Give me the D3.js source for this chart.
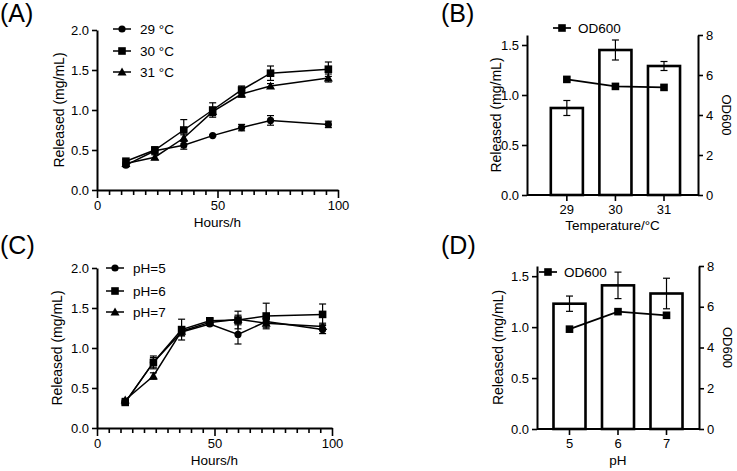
<!DOCTYPE html>
<html>
<head>
<meta charset="utf-8">
<script src="https://cdn.jsdelivr.net/npm/d3@7"></script>
<style>
  body { margin: 0; background: #fff; }
  text { font-family: Arial, "Liberation Sans", sans-serif; fill: #000; }
</style>
</head>
<body>
<svg id="fig" width="737" height="471"></svg>
<script>
// ---- data ----
const hours = [12, 24, 36, 48, 60, 72, 96];

const t29 = [0.31, 0.49, 0.56, 0.68, 0.78, 0.87, 0.82];
const t29Err = [0.02, 0.04, 0.05, 0.01, 0.04, 0.06, 0.04];
const t30 = [0.36, 0.50, 0.75, 1.00, 1.25, 1.46, 1.51];
const t30Err = [0.02, 0.04, 0.13, 0.09, 0.05, 0.09, 0.09];
const t31 = [0.33, 0.41, 0.65, 0.98, 1.20, 1.30, 1.40];
const t31Err = [0.02, 0.03, 0.04, 0.05, 0.04, 0.03, 0.05];

const ph5 = [0.32, 0.82, 1.20, 1.30, 1.17, 1.33, 1.23];
const ph5Err = [0.02, 0.06, 0.05, 0.02, 0.12, 0.04, 0.05];
const ph6 = [0.32, 0.82, 1.23, 1.34, 1.35, 1.40, 1.42];
const ph6Err = [0.02, 0.08, 0.13, 0.03, 0.11, 0.16, 0.13];
const ph7 = [0.35, 0.65, 1.21, 1.32, 1.36, 1.31, 1.27];
const ph7Err = [0.02, 0.04, 0.05, 0.03, 0.05, 0.05, 0.04];

const tempCats = ["29", "30", "31"];
const tempReleased = [0.87, 1.45, 1.29];
const tempReleasedErr = [0.075, 0.10, 0.045];
const tempOD = [5.78, 5.43, 5.38];

const phCats = ["5", "6", "7"];
const phReleased = [1.23, 1.41, 1.33];
const phReleasedErr = [0.075, 0.13, 0.15];
const phOD = [4.9, 5.76, 5.58];

const svg = d3.select("#fig");

function marker(g, shape, x, y) {
  if (shape === "circle") {
    g.append("circle").attr("cx", x).attr("cy", y).attr("r", 3.6).attr("fill", "#000");
  } else if (shape === "square") {
    g.append("rect").attr("x", x - 3.8).attr("y", y - 3.8).attr("width", 7.6).attr("height", 7.6).attr("fill", "#000");
  } else {
    g.append("path").attr("d", `M${x},${y - 4.5}L${x + 4.5},${y + 3.5}L${x - 4.5},${y + 3.5}Z`).attr("fill", "#000");
  }
}

function errBar(g, x, y0, y1) {
  g.append("line").attr("x1", x).attr("x2", x).attr("y1", y0).attr("y2", y1)
    .attr("stroke", "#000").attr("stroke-width", 1.2);
  [y0, y1].forEach(yy => g.append("line").attr("x1", x - 3.5).attr("x2", x + 3.5)
    .attr("y1", yy).attr("y2", yy).attr("stroke", "#000").attr("stroke-width", 1.2));
}

function styleAxis(a) {
  a.selectAll("path.domain").attr("stroke", "#000").attr("stroke-width", 2);
  a.selectAll(".tick line").attr("stroke", "#000").attr("stroke-width", 1.6);
  a.selectAll(".tick text").style("font-size", "13px").attr("fill", "#000");
}

function panelLabel(text, x, y) {
  svg.append("text").attr("x", x).attr("y", y).style("font-size", "25px").text(text);
}

function yLabel(text, x, y) {
  svg.append("text").attr("transform", `translate(${x},${y}) rotate(-90)`)
    .attr("text-anchor", "middle").style("font-size", "14px").text(text);
}

function drawLinePanel(p) {
  const g = svg.append("g");
  const x = d3.scaleLinear().domain([0, 100]).range([p.left, p.right]);
  const y = d3.scaleLinear().domain([0, 2]).range([p.bottom, p.top]);

  // minor ticks every 5
  const xa = g.append("g").attr("transform", `translate(0,${p.bottom})`)
    .call(d3.axisBottom(x).tickValues(d3.range(0, 101, 5)).tickSize(5).tickSizeOuter(0)
      .tickFormat(d => d % 50 === 0 ? d : ""));
  styleAxis(xa);
  xa.selectAll(".tick").filter(d => d % 50 === 0).select("line").attr("y2", 8);
  xa.selectAll(".tick text").attr("y", 11);

  const ya = g.append("g").attr("transform", `translate(${p.left},0)`)
    .call(d3.axisLeft(y).tickValues([0, 0.5, 1, 1.5, 2]).tickFormat(d3.format(".1f")).tickSize(5).tickSizeOuter(0));
  styleAxis(ya);

  p.series.forEach(s => {
    const line = d3.line().x((d, i) => x(hours[i])).y(d => y(d));
    g.append("path").datum(s.values).attr("fill", "none").attr("stroke", "#000")
      .attr("stroke-width", 1.5).attr("d", line);
    s.values.forEach((v, i) => errBar(g, x(hours[i]), y(v - s.err[i]), y(v + s.err[i])));
    s.values.forEach((v, i) => marker(g, s.shape, x(hours[i]), y(v)));
  });

  // legend
  p.series.forEach((s, i) => {
    const ly = p.legendY[i];
    g.append("line").attr("x1", p.legendX - 9).attr("x2", p.legendX + 9).attr("y1", ly).attr("y2", ly)
      .attr("stroke", "#000").attr("stroke-width", 1.5);
    marker(g, s.shape, p.legendX, ly);
    g.append("text").attr("x", p.legendX + 18).attr("y", ly + 5).style("font-size", "13.5px").text(s.name);
  });

  svg.append("text").attr("x", (p.left + p.right) / 2).attr("y", p.xLabelY)
    .attr("text-anchor", "middle").style("font-size", "13.5px").text("Hours/h");
  yLabel("Released  (mg/mL)", p.yLabelX, (p.top + p.bottom) / 2);
}

function drawBarPanel(p) {
  const g = svg.append("g");
  const x = d3.scaleBand().domain(p.cats).range([p.left, p.right])
    .paddingInner(0.34).paddingOuter(p.outer).align(p.align);
  const y = d3.scaleLinear().domain([0, 1.6]).range([p.bottom, p.top]);
  const y2 = d3.scaleLinear().domain([0, 8]).range([p.bottom, p.top]);

  g.selectAll("rect.bar").data(p.values).enter().append("rect")
    .attr("class", "bar")
    .attr("x", (d, i) => x(p.cats[i]))
    .attr("y", d => y(d))
    .attr("width", x.bandwidth())
    .attr("height", d => p.bottom - y(d))
    .attr("fill", "#fff").attr("stroke", "#000").attr("stroke-width", 2.6);

  p.values.forEach((v, i) => {
    const cx = x(p.cats[i]) + x.bandwidth() / 2;
    errBar(g, cx, y(v - p.err[i]), y(v + p.err[i]));
  });

  const xa = g.append("g").attr("transform", `translate(0,${p.bottom})`)
    .call(d3.axisBottom(x).tickSize(6).tickSizeOuter(0));
  styleAxis(xa);
  xa.select("path.domain").attr("d", `M${p.left},0H${p.right}`);
  xa.selectAll(".tick text").attr("y", 10);

  const ya = g.append("g").attr("transform", `translate(${p.left},0)`)
    .call(d3.axisLeft(y).tickValues([0, 0.5, 1, 1.5]).tickFormat(d3.format(".1f")).tickSize(5).tickSizeOuter(0));
  styleAxis(ya);

  const ya2 = g.append("g").attr("transform", `translate(${p.right},0)`)
    .call(d3.axisRight(y2).tickValues([0, 2, 4, 6, 8]).tickSize(5).tickSizeOuter(0));
  styleAxis(ya2);

  const line = d3.line().x((d, i) => x(p.cats[i]) + x.bandwidth() / 2).y(d => y2(d));
  g.append("path").datum(p.od).attr("fill", "none").attr("stroke", "#000")
    .attr("stroke-width", 1.7).attr("d", line);
  p.od.forEach((v, i) => marker(g, "square", x(p.cats[i]) + x.bandwidth() / 2, y2(v)));

  // legend
  g.append("line").attr("x1", p.legendX - 9).attr("x2", p.legendX + 9).attr("y1", p.legendY).attr("y2", p.legendY)
    .attr("stroke", "#000").attr("stroke-width", 1.7);
  marker(g, "square", p.legendX, p.legendY);
  g.append("text").attr("x", p.legendX + 16).attr("y", p.legendY + 5).style("font-size", "13.5px").text("OD600");

  svg.append("text").attr("x", (p.left + p.right) / 2).attr("y", p.xLabelY)
    .attr("text-anchor", "middle").style("font-size", "13.5px").text(p.xLabel);
  yLabel("Released  (mg/mL)", p.yLabelX, (p.top + p.bottom) / 2);
  // right axis title, glyph tops facing right
  svg.append("text").attr("transform", `translate(${p.right + 24},${(p.top + p.bottom) / 2}) rotate(90)`)
    .attr("text-anchor", "middle").style("font-size", "13px").text("OD600");
}

panelLabel("(A)", 0, 22);
panelLabel("(B)", 441, 22);
panelLabel("(C)", 0, 254);
panelLabel("(D)", 441, 254);

drawLinePanel({
  left: 97, right: 338, top: 30, bottom: 190,
  xLabelY: 227, yLabelX: 64,
  legendX: 122, legendY: [29, 51, 72],
  series: [
    { name: "29 °C", values: t29, err: t29Err, shape: "circle" },
    { name: "30 °C", values: t30, err: t30Err, shape: "square" },
    { name: "31 °C", values: t31, err: t31Err, shape: "triangle" }
  ]
});

drawLinePanel({
  left: 97, right: 332, top: 268, bottom: 428,
  xLabelY: 465, yLabelX: 62,
  legendX: 115, legendY: [268, 291, 312],
  series: [
    { name: "pH=5", values: ph5, err: ph5Err, shape: "circle" },
    { name: "pH=6", values: ph6, err: ph6Err, shape: "square" },
    { name: "pH=7", values: ph7, err: ph7Err, shape: "triangle" }
  ]
});

drawBarPanel({
  left: 527, right: 698, top: 35, bottom: 195, outer: 0.43, align: 0.57,
  cats: tempCats, values: tempReleased, err: tempReleasedErr, od: tempOD,
  legendX: 562, legendY: 28, xLabel: "Temperature/°C", xLabelY: 230, yLabelX: 501
});

drawBarPanel({
  left: 537, right: 699, top: 266, bottom: 429, outer: 0.34, align: 0.5,
  cats: phCats, values: phReleased, err: phReleasedErr, od: phOD,
  legendX: 548, legendY: 272, xLabel: "pH", xLabelY: 465, yLabelX: 503
});
</script>
</body>
</html>
